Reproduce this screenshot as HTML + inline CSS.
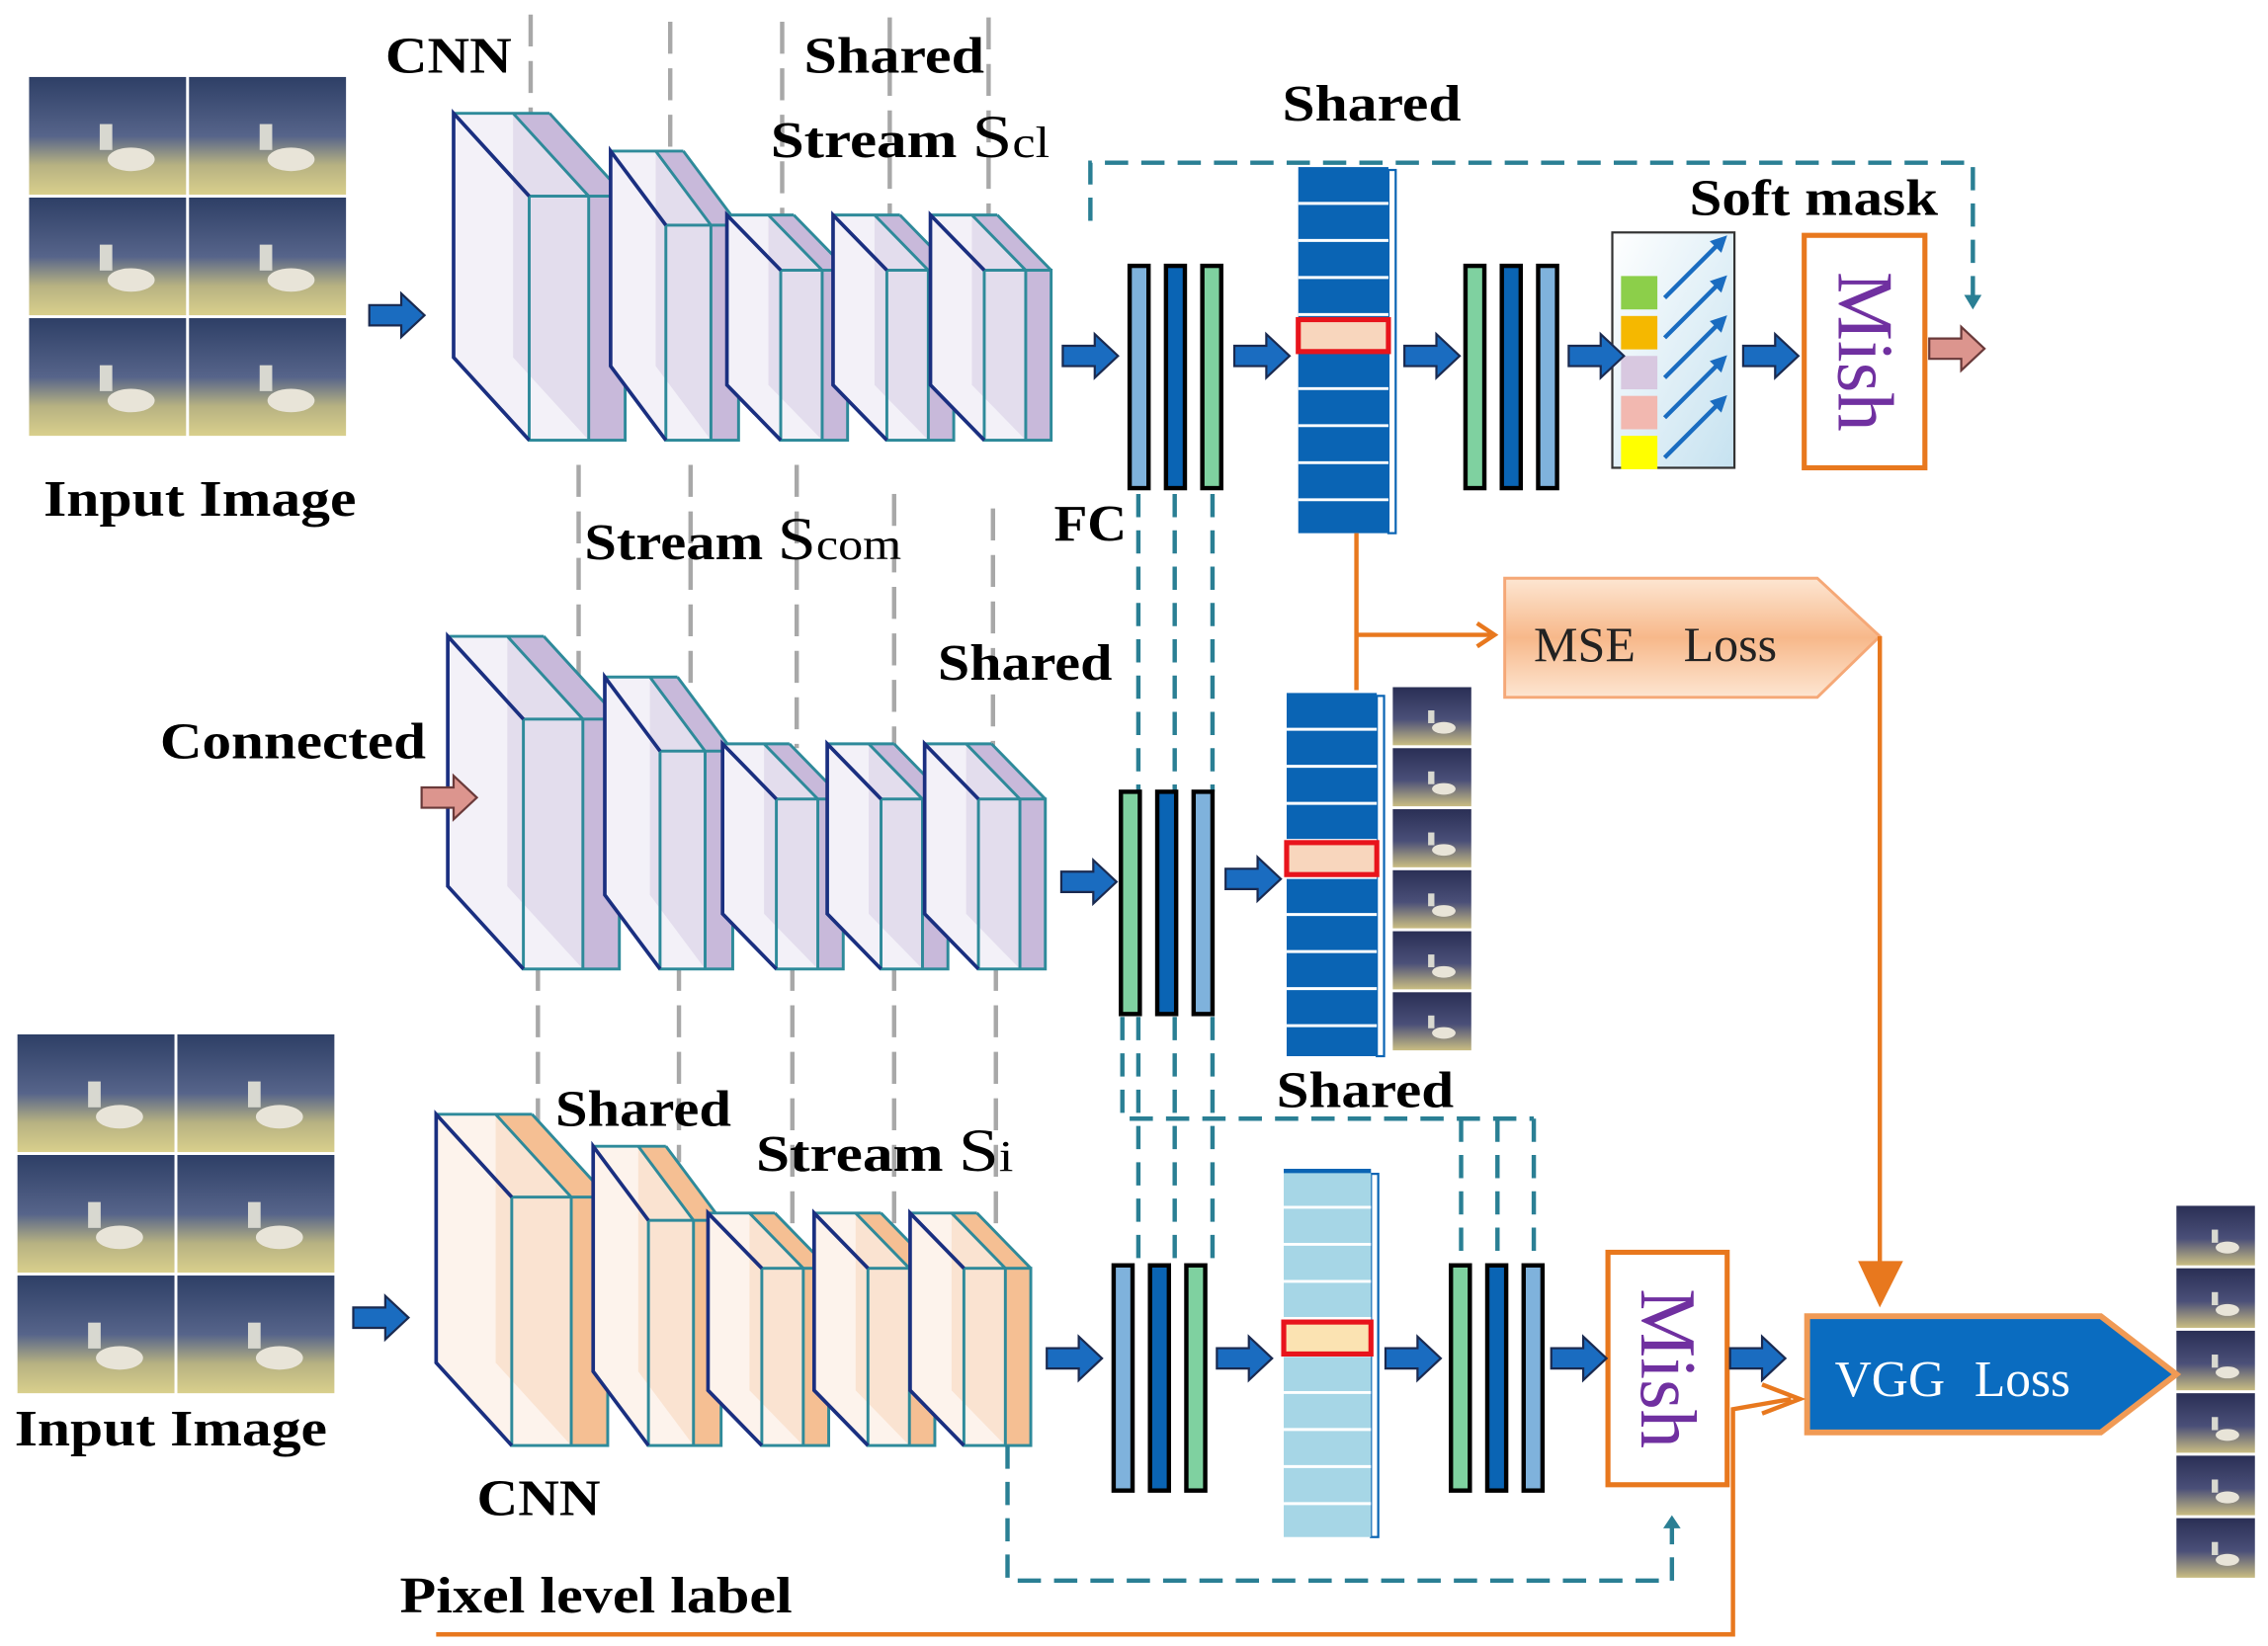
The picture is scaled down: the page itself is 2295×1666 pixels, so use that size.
<!DOCTYPE html>
<html><head><meta charset="utf-8">
<style>
html,body{margin:0;padding:0;background:#fff;}
svg{display:block;}
text{font-family:"Liberation Serif",serif;}
.b{font-weight:bold;fill:#000;}
</style></head>
<body>
<svg id="s" width="2295" height="1666" viewBox="0 0 1560 1133" preserveAspectRatio="none" xmlns="http://www.w3.org/2000/svg">
<defs>
<linearGradient id="ph" x1="0" y1="0" x2="0" y2="1">
<stop offset="0" stop-color="#2e3f66"/><stop offset="0.5" stop-color="#56648a"/><stop offset="0.75" stop-color="#b7b282"/><stop offset="1" stop-color="#d9cf8c"/>
</linearGradient>
<linearGradient id="ph2" x1="0" y1="0" x2="0" y2="1">
<stop offset="0" stop-color="#2a2f55"/><stop offset="0.55" stop-color="#4a4f78"/><stop offset="1" stop-color="#c9bd82"/>
</linearGradient>
<linearGradient id="mse" x1="0" y1="0" x2="0" y2="1">
<stop offset="0" stop-color="#fde6d2"/><stop offset="0.5" stop-color="#f7b88a"/><stop offset="1" stop-color="#fde6d2"/>
</linearGradient>
<linearGradient id="sm" x1="0" y1="0" x2="1" y2="1">
<stop offset="0" stop-color="#ffffff"/><stop offset="1" stop-color="#c6e2f0"/>
</linearGradient>
</defs>
<g id="g"></g>
</svg>
<script>
var o='';
function A(s){o+=s;}
function photos(x,y,cw,ch,cols,rows,grad){
 for(var r=0;r<rows;r++)for(var c=0;c<cols;c++){
  var px=x+c*(cw+2),py=y+r*(ch+2);
  A('<rect x="'+px+'" y="'+py+'" width="'+cw+'" height="'+ch+'" fill="url(#'+grad+')"/>');
  A('<rect x="'+(px+cw*0.45)+'" y="'+(py+ch*0.4)+'" width="'+(cw*0.08)+'" height="'+(ch*0.22)+'" fill="#d8d8d0"/>');
  A('<ellipse cx="'+(px+cw*0.65)+'" cy="'+(py+ch*0.7)+'" rx="'+(cw*0.15)+'" ry="'+(ch*0.1)+'" fill="#e8e4d8"/>');
 }
}
photos(20,53,108,81,2,3,'ph');
photos(12,712,108,81,2,3,'ph');
photos(958,473,54,40,1,6,'ph2');
photos(1497,830,54,41,1,6,'ph2');
function gl(x,y1,y2){A('<line x1="'+x+'" y1="'+y1+'" x2="'+x+'" y2="'+y2+'" stroke="#a8a8a8" stroke-width="3" stroke-dasharray="22,10"/>');}
[[365,10,90],[461,15,110],[538,15,150],[612,12,150],[680,12,150],
 [398,320,520],[475,320,470],[548,320,515],[615,340,515],[683,350,515],
 [370,660,870],[467,660,800],[545,660,845],[615,660,890],[685,660,850]].forEach(function(a){gl(a[0],a[1],a[2]);});
function blk(x,y,w,h,dx,dy,light,mid,dark){
 A('<polygon points="'+x+','+y+' '+(x+w)+','+y+' '+(x+w+dx)+','+(y+dy)+' '+(x+w+dx)+','+(y+dy+h)+' '+(x+dx)+','+(y+dy+h)+' '+x+','+(y+h)+'" fill="'+light+'" stroke="none"/>');
 var sx=w*0.62;
 A('<polygon points="'+(x+sx)+','+y+' '+(x+w)+','+y+' '+(x+w+dx)+','+(y+dy)+' '+(x+w+dx)+','+(y+dy+h)+' '+(x+sx+dx)+','+(y+dy+h)+' '+(x+sx)+','+(y+h)+'" fill="'+mid+'" opacity="0.6"/>');
 A('<polygon points="'+(x+sx)+','+y+' '+(x+w)+','+y+' '+(x+w+dx)+','+(y+dy)+' '+(x+sx+dx)+','+(y+dy)+'" fill="'+dark+'"/>');
 A('<rect x="'+(x+dx+sx)+'" y="'+(y+dy)+'" width="'+(w-sx)+'" height="'+h+'" fill="'+dark+'"/>');
 A('<rect x="'+(x+dx)+'" y="'+(y+dy)+'" width="'+w+'" height="'+h+'" fill="none" stroke="#2e8a9a" stroke-width="2"/>');
 A('<line x1="'+(x+dx+sx)+'" y1="'+(y+dy)+'" x2="'+(x+dx+sx)+'" y2="'+(y+dy+h)+'" stroke="#2e8a9a" stroke-width="2"/>');
 A('<line x1="'+x+'" y1="'+y+'" x2="'+(x+w)+'" y2="'+y+'" stroke="#2e8a9a" stroke-width="2"/>');
 A('<line x1="'+(x+w)+'" y1="'+y+'" x2="'+(x+w+dx)+'" y2="'+(y+dy)+'" stroke="#2e8a9a" stroke-width="2"/>');
 A('<line x1="'+(x+sx)+'" y1="'+y+'" x2="'+(x+sx+dx)+'" y2="'+(y+dy)+'" stroke="#2e8a9a" stroke-width="2"/>');
 A('<polyline points="'+(x+dx)+','+(y+dy)+' '+x+','+y+' '+x+','+(y+h)+' '+(x+dx)+','+(y+dy+h)+'" fill="none" stroke="#1a2f80" stroke-width="2.5"/>');
}
function row(xs,yb,L,M,D){
 var sp=[[66,52,57],[50,38,51],[46,37,38],[46,37,38],[46,37,38]];
 for(var i=0;i<5;i++){var s=sp[i];var top=xs[i][1];var h=yb-(top+s[2]);blk(xs[i][0],top,s[0],h,s[1],s[2],L,M,D);}
}
row([[312,78],[420,104],[500,148],[573,148],[640,148]],303,'#f3f1f8','#d9d0e6','#c8b9da');
row([[308,438],[416,466],[497,512],[569,512],[636,512]],667,'#f3f1f8','#d9d0e6','#c8b9da');
row([[300,767],[408,789],[487,835],[560,835],[626,835]],995,'#fdf3ec','#f9d9bf','#f5bf93');
function td(p){A('<polyline points="'+p+'" fill="none" stroke="#2a7f94" stroke-width="3" stroke-dasharray="16,9"/>');}
td('750,152 750,112 1357,112 1357,205');
A('<polygon points="1351,203 1363,203 1357,213" fill="#2a7f94"/>');
[783,808,834].forEach(function(x){td(x+',340 '+x+',545');td(x+',700 '+x+',870');});
td('772,700 772,770 1055,770');
[1005,1030,1055].forEach(function(x){td(x+',770 '+x+',870');});
td('693,995 693,1088 1150,1088 1150,1050');
A('<polygon points="1144,1052 1156,1052 1150,1043" fill="#2a7f94"/>');
var C={l:'#7fb2dc',d:'#0a64b4',g:'#7fd1a0'};
function bars(x,y,h,ord){for(var i=0;i<3;i++)A('<rect x="'+(x+i*25)+'" y="'+y+'" width="13" height="'+h+'" fill="'+C[ord[i]]+'" stroke="#000" stroke-width="3"/>');}
bars(777,183,153,'ldg');bars(1008,183,153,'gdl');
bars(771,545,153,'gdl');
bars(766,871,155,'ldg');bars(998,871,155,'gdl');
function col(x,y,w,h,fill,line,ry,cf){
 A('<rect x="'+(x+w)+'" y="'+(y+2)+'" width="5" height="'+(h-2)+'" fill="#fff" stroke="'+line+'" stroke-width="1.5"/>');
 A('<rect x="'+x+'" y="'+y+'" width="'+w+'" height="'+h+'" fill="'+fill+'"/>');
 for(var yy=y+25;yy<y+h;yy+=25.5)A('<line x1="'+x+'" y1="'+yy+'" x2="'+(x+w)+'" y2="'+yy+'" stroke="#fff" stroke-width="2"/>');
 A('<rect x="'+x+'" y="'+ry+'" width="'+(w)+'" height="22" fill="'+cf+'" stroke="#e8141c" stroke-width="3.5"/>');
}
col(893,115,62,252,'#0a64b4','#0a64b4',220,'#f8d6bd');
col(885,477,62,250,'#0a64b4','#0a64b4',580,'#f8d6bd');
col(883,806,60,252,'#a6d6e6','#0a64b4',910,'#fbe3b2');
A('<line x1="883" y1="806" x2="943" y2="806" stroke="#0a64b4" stroke-width="3"/>');
var OR='#e8781e';
A('<polyline points="933,367 933,475" fill="none" stroke="'+OR+'" stroke-width="3"/>');
A('<polyline points="933,437 1026,437" fill="none" stroke="'+OR+'" stroke-width="3"/>');
A('<polyline points="1016,429 1028,437 1016,445" fill="none" stroke="'+OR+'" stroke-width="3"/>');
A('<polygon points="1035,398 1250,398 1293,438 1250,480 1035,480" fill="url(#mse)" stroke="#f5a877" stroke-width="2"/>');
A('<text x="1055" y="455" font-size="34" fill="#222">MSE</text><text x="1158" y="455" font-size="34" fill="#222">Loss</text>');
A('<polyline points="1293,438 1293,880" fill="none" stroke="'+OR+'" stroke-width="3"/>');
A('<polygon points="1278,868 1309,868 1293,900" fill="'+OR+'"/>');
A('<polygon points="1243,906 1445,906 1497,946 1445,986 1243,986" fill="#0a6cc0" stroke="#f09a55" stroke-width="4"/>');
A('<text x="1262" y="961" font-size="35" fill="#fff">VGG</text><text x="1358" y="961" font-size="35" fill="#fff">Loss</text>');
A('<polyline points="300,1125 1192,1125 1192,970 1232,963" fill="none" stroke="'+OR+'" stroke-width="3"/>');
A('<polyline points="1212,953 1238,963 1212,973" fill="none" stroke="'+OR+'" stroke-width="3"/>');
A('<rect x="1109" y="160" width="84" height="162" fill="url(#sm)" stroke="#333" stroke-width="1.5"/>');
var sc=['#8ccf4a','#f5b800','#d8c8e0','#f2b8b0','#ffff00'];
for(var i=0;i<5;i++){var yy=190+i*27.5;A('<rect x="1115" y="'+yy+'" width="25" height="23" fill="'+sc[i]+'"/>');
 A('<line x1="1145" y1="'+(yy+15)+'" x2="1185" y2="'+(yy-25)+'" stroke="#1a6cc0" stroke-width="3"/>');
 A('<polygon points="'+(1188)+','+(yy-28)+' '+(1176)+','+(yy-24)+' '+(1184)+','+(yy-16)+'" fill="#1a6cc0"/>');}
function mish(x,y,w,h){A('<rect x="'+x+'" y="'+y+'" width="'+w+'" height="'+h+'" fill="#fff" stroke="'+OR+'" stroke-width="3.5"/>');
 A('<text transform="translate('+(x+w/2-18)+','+(y+25)+') rotate(90)" font-size="55" fill="#7030a0" textLength="110" lengthAdjust="spacingAndGlyphs">Mish</text>');}
mish(1241,162,83,160);mish(1106,862,82,160);
function arr(x,y,fill,st){A('<polygon points="'+x+','+(y-7)+' '+(x+22)+','+(y-7)+' '+(x+22)+','+(y-15)+' '+(x+38)+','+y+' '+(x+22)+','+(y+15)+' '+(x+22)+','+(y+7)+' '+x+','+(y+7)+'" fill="'+fill+'" stroke="'+st+'" stroke-width="1.5"/>');}
[[254,217],[731,245],[849,245],[966,245],[1079,245],[1199,245],[730,607],[843,605],[243,907],[720,935],[837,935],[953,935],[1067,935],[1190,935]].forEach(function(a){arr(a[0],a[1],'#1a6cc0','#1a2a50');});
arr(1327,240,'#dc958e','#6a3a3a');arr(290,549,'#dc958e','#6a3a3a');
function T(x,y,s,t,L){A('<text class="b" x="'+x+'" y="'+y+'" font-size="'+s+'" textLength="'+L+'" lengthAdjust="spacingAndGlyphs">'+t+'</text>');}
function S(x,y,sub,L){A('<text class="b" x="'+x+'" y="'+y+'" font-size="35" textLength="'+L+'" lengthAdjust="spacingAndGlyphs">Stream <tspan font-weight="normal" font-size="42">S</tspan><tspan font-weight="normal" font-size="30">'+sub+'</tspan></text>');}
T(265,50,35,'CNN',87);T(553,50,35,'Shared',124);
S(530,108,'cl',192);
T(882,83,35,'Shared',123);T(1162,148,35,'Soft mask',171);
T(30,355,35,'Input Image',215);T(725,372,35,'FC',50);
S(402,385,'com',218);
T(645,468,35,'Shared',120);T(110,522,35,'Connected',183);T(878,762,35,'Shared',122);T(382,775,35,'Shared',121);
S(520,806,'i',177);
T(10,995,35,'Input Image',215);T(328,1043,35,'CNN',85);T(275,1110,35,'Pixel level label',270);
document.getElementById('g').innerHTML=o;
</script>
</body></html>
